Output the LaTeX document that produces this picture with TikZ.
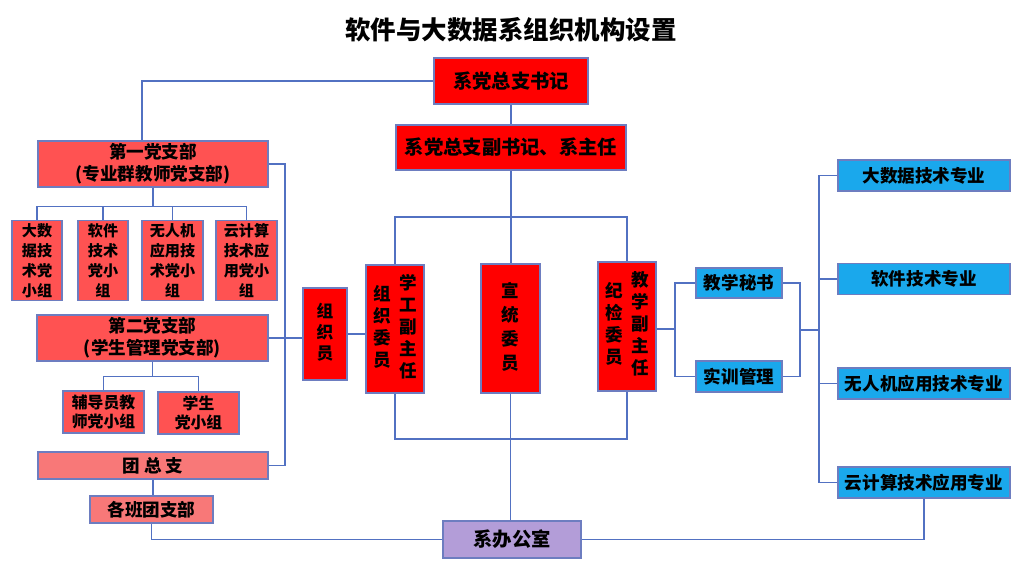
\documentclass[tikz,border=0pt]{standalone}
\usepackage{fontspec}
\setmainfont{Noto Sans CJK SC}
\usepackage{tikz}
\usetikzlibrary{calc}
\definecolor{partyRed}{HTML}{FF0000}
\definecolor{branchRed}{HTML}{FF5252}
\definecolor{leagueRed}{HTML}{F87878}
\definecolor{majorBlue}{HTML}{1AA8EC}
\definecolor{officePurple}{HTML}{B39DD8}
\definecolor{lineBlue}{HTML}{5271C2}
\definecolor{edgeBlue}{HTML}{6D7DC0}
\newcommand\vtext[1]{\begin{tabular}{@{}c@{}}#1\end{tabular}}

\begin{document}
\begin{tikzpicture}[x=0.02cm, y=-0.02cm,
    box/.style={draw=edgeBlue, line width=0.7pt, inner sep=0pt, align=center, font=\bfseries\fontsize{10}{12.5}\selectfont},
    red/.style={box, fill=partyRed},
    branch/.style={box, fill=branchRed},
    league/.style={box, fill=leagueRed, minimum height=0.54cm},
    major/.style={box, fill=majorBlue, minimum height=0.62cm},
    link/.style={lineBlue, line width=0.8pt}]
    \useasboundingbox (0,0) rectangle (1024,573);
    \node[font=\bfseries\fontsize{14.5}{16}\selectfont] (title) at (511,30) {软件与大数据系组织机构设置};
    \node[red, minimum width=3.08cm, minimum height=0.92cm, font=\bfseries\fontsize{11}{13}\selectfont] (sec) at (511,81) {系党总支书记};
    \node[red, minimum width=4.6cm, minimum height=0.9cm, font=\bfseries\fontsize{11}{13}\selectfont] (dep) at (511,147.5) {系党总支副书记、系主任};
    \node[branch, minimum width=4.6cm, minimum height=0.92cm] (b1) at (153,164) {第一党支部\\(专业群教师党支部)};
    \node[branch, minimum width=4.62cm, minimum height=0.92cm] (b2) at (152.5,338) {第二党支部\\(学生管理党支部)};
    \foreach \n/\x/\w/\t in {g1/37/1.0/大数\\据技\\术党\\小组, g2/103/1.0/软件\\技术\\党小\\组,
        g3/172.5/1.22/无人机\\应用技\\术党小\\组, g4/246.5/1.22/云计算\\技术应\\用党小\\组}
        \node[branch, minimum width=\w cm, minimum height=1.6cm, font=\bfseries\fontsize{8.6}{11.4}\selectfont] (\n) at (\x,260.5) {\t};
    \node[branch, minimum width=1.62cm, minimum height=0.84cm, font=\bfseries\fontsize{9}{11}\selectfont] (s1) at (103.5,412) {辅导员教\\师党小组};
    \node[branch, minimum width=1.62cm, minimum height=0.84cm, font=\bfseries\fontsize{9}{11}\selectfont] (s2) at (198.5,413) {学生\\党小组};
    \node[league, minimum width=4.6cm] (yl) at (153,465.5) {团\ 总\ 支};
    \node[league, minimum width=2.46cm] (cls) at (151.5,509.5) {各班团支部};
    \node[red, minimum width=0.88cm, minimum height=1.84cm, font=\bfseries\fontsize{9.5}{12}\selectfont] (org) at (325,334) {\vtext{组\\织\\员}};
    \node[red, minimum width=1.16cm, minimum height=2.56cm] (vxg) at (395,329) {\vtext{组\\织\\委\\员}\hspace{5pt}\vtext{学\\工\\副\\主\\任}};
    \node[red, minimum width=1.18cm, minimum height=2.58cm, font=\bfseries\fontsize{10}{13.7}\selectfont] (vxt) at (510.5,328.5) {\vtext{宣\\统\\委\\员}};
    \node[red, minimum width=1.16cm, minimum height=2.58cm] (vjx) at (627,326.5) {\vtext{纪\\检\\委\\员}\hspace{5pt}\vtext{教\\学\\副\\主\\任}};
    \node[box, fill=officePurple, minimum width=2.76cm, minimum height=0.74cm, font=\bfseries\fontsize{11}{13}\selectfont] (office) at (512,539.5) {系办公室};
    \node[major, minimum width=1.72cm, minimum height=0.6cm] (sec1) at (739,283) {教学秘书};
    \node[major, minimum width=1.72cm] (sec2) at (739,376.5) {实训管理};
    \foreach \n/\y/\t in {m1/175.5/大数据技术专业, m2/279/软件技术专业, m3/383.5/无人机应用技术专业, m4/482.5/云计算技术应用专业}
        \node[major, minimum width=3.44cm] (\n) at (924,\y) {\t};
    \coordinate (top) at (511,217);
    \coordinate (bot) at (511,439);
    \coordinate (lbus) at (285,169);
    \coordinate (rbus) at (675,329);
    \coordinate (mid) at (800,330);
    \coordinate (mbus) at (819,330);
    \draw[link] (sec.west) -| ([xshift=-0.22cm]b1.north);
    \draw[link] (sec.south) -- (dep.north);
    \draw[link] (dep.south) -- (dep.south |- vxt.north);
    \draw[link] (vxg.north) |- (top) -| (vjx.north);
    \draw[link] (vxg.south) |- (bot) -| (vjx.south);
    \draw[link] (vxt.south) -- (vxt.south |- office.north);
    \foreach \g in {g1,g2,g3,g4}
        \draw[link] (b1.south) -- ++(0,19) -| (\g.north);
    \foreach \g in {s1,s2}
        \draw[link] (b2.south) -- ++(0,15) -| (\g.north);
    \draw[link] (b1.east) -| (lbus |- yl.east) -- (yl.east);
    \draw[link] (b2.east) -- (b2.east -| org.west);
    \draw[link] (org.east) -- (org.east -| vxg.west);
    \draw[link] (yl.south) -- (yl.south |- cls.north);
    \draw[link] (cls.south) |- (office.west);
    \draw[link] (rbus -| vjx.east) -- (rbus);
    \draw[link] (sec1.west) -| (rbus |- sec2.west) -- (sec2.west);
    \draw[link] (sec1.east) -| (mid |- sec2.east) -- (sec2.east);
    \draw[link] (mid) -- (mbus);
    \draw[link] (m1.west) -| (mbus |- m4.west) -- (m4.west);
    \draw[link] (m2.west) -- (m2.west -| mbus);
    \draw[link] (m3.west) -- (m3.west -| mbus);
    \draw[link] (m4.south) |- (office.east);
\end{tikzpicture}
\end{document}
